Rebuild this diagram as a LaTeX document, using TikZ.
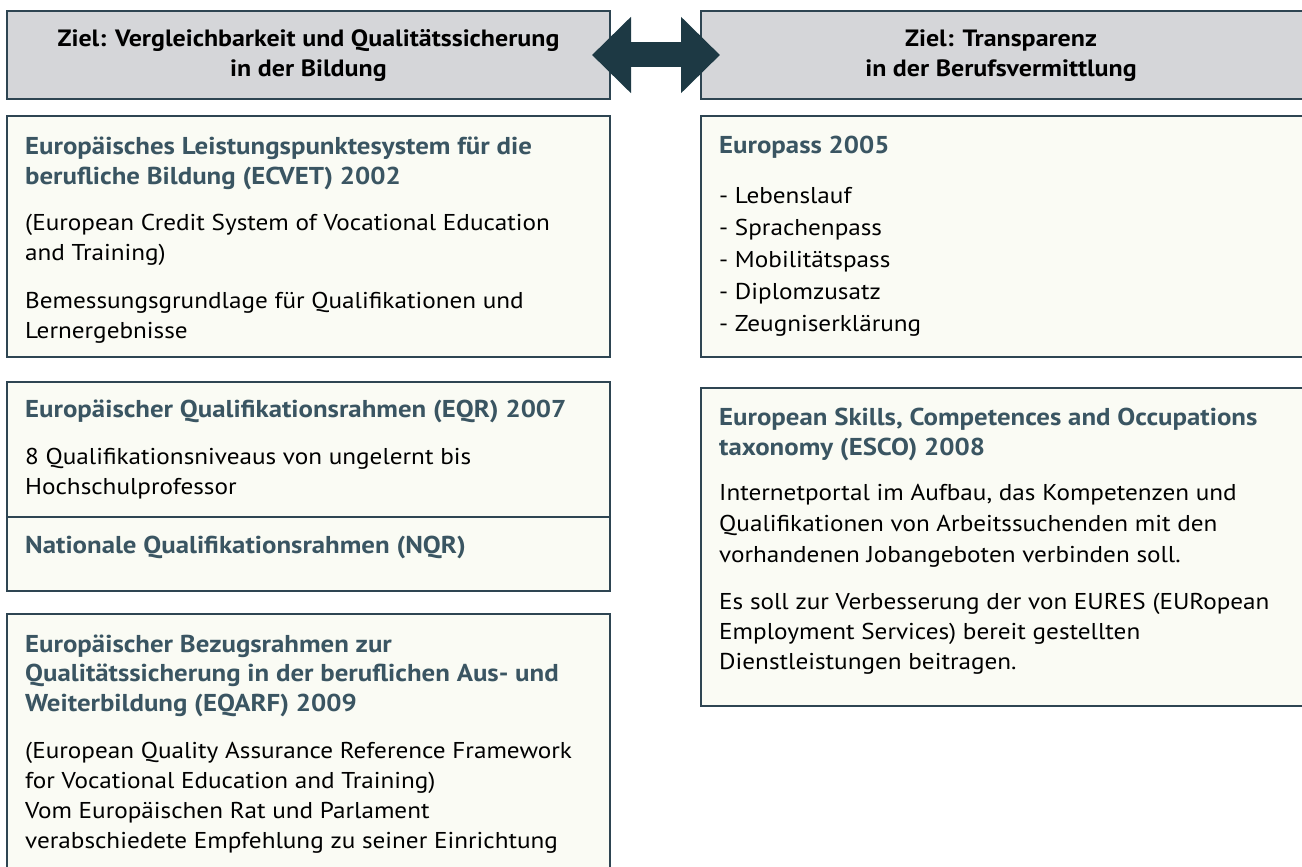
\documentclass[tikz,border=0pt]{standalone}
\usepackage{fontspec}
\setmainfont{PT Sans}[FakeStretch=1.1]
\usetikzlibrary{arrows.meta}
\definecolor{frame}{HTML}{2E4552}
\definecolor{headfill}{HTML}{D5D6D9}
\definecolor{cardfill}{HTML}{FAFBF4}
\definecolor{titleclr}{HTML}{3A5562}
\definecolor{arrowclr}{HTML}{1D3944}
\begin{document}
\begin{tikzpicture}[x=1pt,y=-1pt,
  card/.style={draw=frame, line width=2.6pt, fill=cardfill, anchor=north west, inner sep=0pt, outer sep=0pt},
  head/.style={card, fill=headfill},
  headtext/.style={font=\fontsize{23.6}{30}\selectfont\bfseries, align=center, anchor=base, inner sep=0pt},
  ttl/.style={font=\fontsize{24.4}{29.5}\selectfont\bfseries, text=titleclr, align=left, anchor=base west, inner sep=0pt},
  body/.style={font=\fontsize{22.9}{30}\selectfont, align=left, anchor=base west, inner sep=0pt},
  bigarrow/.style={draw=arrowclr, line width=25pt, {Triangle[length=39pt,width=74pt]}-{Triangle[length=39pt,width=74pt]}}
]
\useasboundingbox (0,0) rectangle (1302,867);
\clip (0,0) rectangle (1302,867);

% headers (text nodes sit on the baseline of their last line)
\node[head, minimum width=603pt, minimum height=88pt] (hl) at (7,11) {};
\node[head, minimum width=606pt, minimum height=88pt] (hr) at (701,11) {};
\node[headtext] (hlt) at (308.5,77) {Ziel: Vergleichbarkeit und Qualitätssicherung\\in der Bildung};
\node[headtext] (hrt) at (1001,77) {Ziel: Transparenz\\in der Berufsvermittlung};

% double arrow between the two goals
\coordinate (al) at (592,55);
\coordinate (ar) at (720,55);
\draw[bigarrow] (al) -- (ar);

% left column
\node[card, minimum width=603pt, minimum height=241pt] (ecvet) at (7,116) {};
\node[card, minimum width=603pt, minimum height=135pt] (eqr) at (7,382) {};
\node[card, minimum width=603pt, minimum height=74pt] (nqr) at (7,517) {};
\node[card, minimum width=603pt, minimum height=300pt] (eqarf) at (7,614) {};

\node[ttl] (ecvet1) at (25,184) {Europäisches Leistungspunktesystem für die\\berufliche Bildung (ECVET) 2002};
\node[body] (ecvet2) at (25,260) {(European Credit System of Vocational Education\\and Training)};
\node[body] (ecvet3) at (25,338) {Bemessungsgrundlage für Qualifikationen und\\Lernergebnisse};

\node[ttl] (eqr1) at (25,417) {Europäischer Qualifikationsrahmen (EQR) 2007};
\node[body] (eqr2) at (25,494) {8 Qualifikationsniveaus von ungelernt bis\\Hochschulprofessor};
\node[ttl] (nqr1) at (25,553) {Nationale Qualifikationsrahmen (NQR)};

\node[ttl] (eqarf1) at (25,711) {Europäischer Bezugsrahmen zur\\Qualitätssicherung in der beruflichen Aus- und\\Weiterbildung (EQARF) 2009};
\node[body] (eqarf2) at (25,848) {(European Quality Assurance Reference Framework\\for Vocational Education and Training)\\Vom Europäischen Rat und Parlament\\verabschiedete Empfehlung zu seiner Einrichtung};

% right column
\node[card, minimum width=606pt, minimum height=241pt] (europass) at (701,116) {};
\node[card, minimum width=606pt, minimum height=318pt] (esco) at (701,388) {};

\node[ttl] (ep1) at (719,153) {Europass 2005};
\node[body] (ep2) at (719,331) {- Lebenslauf\\[2pt]- Sprachenpass\\[2pt]- Mobilitätspass\\[2pt]- Diplomzusatz\\[2pt]- Zeugniserklärung};

\node[ttl] (esco1) at (719,455) {European Skills, Competences and Occupations\\taxonomy (ESCO) 2008};
\node[body] (esco2) at (719,562) {Internetportal im Aufbau, das Kompetenzen und\\[1pt]Qualifikationen von Arbeitssuchenden mit den\\[1pt]vorhandenen Jobangeboten verbinden soll.};
\node[body] (esco3) at (719,669) {Es soll zur Verbesserung der von EURES (EURopean\\Employment Services) bereit gestellten\\Dienstleistungen beitragen.};
\end{tikzpicture}
\end{document}
